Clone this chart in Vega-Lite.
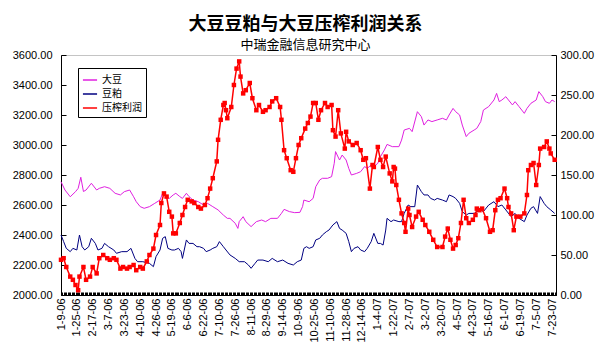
{
"$schema":"https://vega.github.io/schema/vega-lite/v6.json",
"width":495,"height":240,
"autosize":{"type":"none"},
"padding":{"left":61,"top":55,"right":53,"bottom":62},
"background":"white",
"title":{"text":"大豆豆粕与大豆压榨利润关系","subtitle":"中瑞金融信息研究中心","font":"Noto Sans CJK SC","fontSize":18,"fontWeight":"bold","subtitleFont":"Noto Sans CJK SC","subtitleFontSize":13,"anchor":"middle","offset":-3,"subtitlePadding":5,"color":"black","subtitleColor":"black","dx":-3},
"datasets":{
"soy":[{"t":0,"v":2755},{"t":3,"v":2700},{"t":7,"v":2655},{"t":11,"v":2689},{"t":13,"v":2711},{"t":15,"v":2785},{"t":17,"v":2690},{"t":19,"v":2700},{"t":23,"v":2745},{"t":27,"v":2700},{"t":29,"v":2711},{"t":33,"v":2722},{"t":37,"v":2711},{"t":41,"v":2678},{"t":45,"v":2667},{"t":48,"v":2689},{"t":52,"v":2700},{"t":55,"v":2655},{"t":57,"v":2622},{"t":60,"v":2589},{"t":63,"v":2578},{"t":67,"v":2589},{"t":71,"v":2611},{"t":75,"v":2633},{"t":77,"v":2678},{"t":80,"v":2656},{"t":82,"v":2644},{"t":85,"v":2667},{"t":87,"v":2678},{"t":90,"v":2656},{"t":92,"v":2644},{"t":95,"v":2678},{"t":97,"v":2656},{"t":100,"v":2633},{"t":104,"v":2622},{"t":108,"v":2600},{"t":111,"v":2611},{"t":115,"v":2589},{"t":119,"v":2567},{"t":123,"v":2533},{"t":126,"v":2511},{"t":128,"v":2511},{"t":132,"v":2478},{"t":134,"v":2444},{"t":135,"v":2489},{"t":138,"v":2522},{"t":140,"v":2489},{"t":144,"v":2456},{"t":148,"v":2489},{"t":152,"v":2500},{"t":155,"v":2489},{"t":159,"v":2511},{"t":164,"v":2511},{"t":167,"v":2544},{"t":169,"v":2571},{"t":173,"v":2556},{"t":177,"v":2549},{"t":181,"v":2551},{"t":183,"v":2589},{"t":184,"v":2633},{"t":188,"v":2622},{"t":191,"v":2644},{"t":193,"v":2722},{"t":196,"v":2767},{"t":198,"v":2778},{"t":202,"v":2778},{"t":205,"v":2789},{"t":207,"v":2878},{"t":208,"v":2956},{"t":211,"v":2900},{"t":213,"v":2933},{"t":216,"v":2900},{"t":218,"v":2844},{"t":220,"v":2800},{"t":224,"v":2811},{"t":227,"v":2822},{"t":230,"v":2856},{"t":232,"v":2844},{"t":235,"v":2867},{"t":237,"v":2856},{"t":240,"v":2878},{"t":242,"v":2922},{"t":245,"v":2967},{"t":247,"v":3004},{"t":251,"v":2989},{"t":256,"v":2989},{"t":258,"v":3033},{"t":260,"v":3100},{"t":264,"v":3111},{"t":266,"v":3089},{"t":270,"v":3222},{"t":273,"v":3189},{"t":275,"v":3133},{"t":278,"v":3167},{"t":281,"v":3156},{"t":285,"v":3167},{"t":289,"v":3178},{"t":292,"v":3167},{"t":294,"v":3200},{"t":297,"v":3244},{"t":299,"v":3222},{"t":302,"v":3200},{"t":304,"v":3133},{"t":307,"v":3056},{"t":309,"v":3078},{"t":313,"v":3100},{"t":315,"v":3111},{"t":318,"v":3156},{"t":320,"v":3233},{"t":324,"v":3256},{"t":328,"v":3300},{"t":330,"v":3344},{"t":332,"v":3289},{"t":334,"v":3300},{"t":337,"v":3322},{"t":339,"v":3300},{"t":342,"v":3267},{"t":344,"v":3289},{"t":347,"v":3256},{"t":351,"v":3211},{"t":353,"v":3244},{"t":356,"v":3278},{"t":360,"v":3300},{"t":362,"v":3356},{"t":365,"v":3322},{"t":367,"v":3289},{"t":370,"v":3278},{"t":372,"v":3300},{"t":374,"v":3289}],
"meal":[{"t":0,"v":2400},{"t":2,"v":2356},{"t":4,"v":2311},{"t":7,"v":2289},{"t":9,"v":2311},{"t":12,"v":2300},{"t":14,"v":2400},{"t":16,"v":2322},{"t":18,"v":2300},{"t":21,"v":2322},{"t":23,"v":2378},{"t":26,"v":2344},{"t":28,"v":2300},{"t":31,"v":2311},{"t":33,"v":2344},{"t":36,"v":2322},{"t":40,"v":2300},{"t":42,"v":2278},{"t":46,"v":2289},{"t":50,"v":2289},{"t":53,"v":2311},{"t":56,"v":2244},{"t":58,"v":2222},{"t":62,"v":2222},{"t":67,"v":2211},{"t":70,"v":2189},{"t":72,"v":2256},{"t":75,"v":2300},{"t":77,"v":2378},{"t":79,"v":2389},{"t":81,"v":2311},{"t":84,"v":2300},{"t":86,"v":2300},{"t":89,"v":2311},{"t":91,"v":2289},{"t":92,"v":2244},{"t":95,"v":2367},{"t":97,"v":2344},{"t":100,"v":2344},{"t":103,"v":2322},{"t":105,"v":2322},{"t":108,"v":2311},{"t":110,"v":2289},{"t":113,"v":2300},{"t":115,"v":2311},{"t":118,"v":2322},{"t":120,"v":2356},{"t":123,"v":2322},{"t":125,"v":2300},{"t":128,"v":2267},{"t":132,"v":2244},{"t":135,"v":2222},{"t":139,"v":2222},{"t":142,"v":2200},{"t":144,"v":2178},{"t":147,"v":2211},{"t":149,"v":2233},{"t":153,"v":2233},{"t":157,"v":2222},{"t":160,"v":2244},{"t":164,"v":2222},{"t":168,"v":2233},{"t":172,"v":2211},{"t":176,"v":2200},{"t":179,"v":2222},{"t":182,"v":2233},{"t":184,"v":2311},{"t":186,"v":2322},{"t":188,"v":2311},{"t":191,"v":2322},{"t":193,"v":2367},{"t":196,"v":2378},{"t":198,"v":2400},{"t":201,"v":2422},{"t":203,"v":2433},{"t":206,"v":2467},{"t":209,"v":2489},{"t":211,"v":2444},{"t":213,"v":2433},{"t":216,"v":2411},{"t":218,"v":2356},{"t":220,"v":2289},{"t":222,"v":2311},{"t":225,"v":2322},{"t":227,"v":2300},{"t":230,"v":2289},{"t":232,"v":2311},{"t":235,"v":2356},{"t":237,"v":2411},{"t":240,"v":2344},{"t":242,"v":2344},{"t":244,"v":2333},{"t":246,"v":2433},{"t":247,"v":2511},{"t":250,"v":2489},{"t":252,"v":2500},{"t":256,"v":2489},{"t":258,"v":2489},{"t":260,"v":2544},{"t":263,"v":2600},{"t":265,"v":2589},{"t":268,"v":2589},{"t":270,"v":2733},{"t":273,"v":2689},{"t":275,"v":2667},{"t":278,"v":2667},{"t":280,"v":2644},{"t":283,"v":2633},{"t":285,"v":2644},{"t":289,"v":2633},{"t":292,"v":2622},{"t":294,"v":2667},{"t":297,"v":2656},{"t":299,"v":2644},{"t":302,"v":2611},{"t":304,"v":2556},{"t":307,"v":2533},{"t":309,"v":2544},{"t":313,"v":2544},{"t":315,"v":2556},{"t":318,"v":2567},{"t":320,"v":2556},{"t":324,"v":2600},{"t":328,"v":2622},{"t":331,"v":2589},{"t":334,"v":2600},{"t":337,"v":2567},{"t":341,"v":2522},{"t":344,"v":2544},{"t":347,"v":2511},{"t":351,"v":2489},{"t":353,"v":2533},{"t":356,"v":2578},{"t":358,"v":2589},{"t":361,"v":2544},{"t":363,"v":2656},{"t":366,"v":2611},{"t":368,"v":2589},{"t":371,"v":2567},{"t":374,"v":2544}],
"profit":[{"t":0,"v":44},{"t":2,"v":46},{"t":4,"v":35},{"t":7,"v":23},{"t":9,"v":19},{"t":11,"v":12.5},{"t":13,"v":6},{"t":14,"v":23},{"t":17,"v":35},{"t":19,"v":19},{"t":22,"v":23},{"t":24,"v":35},{"t":27,"v":27},{"t":29,"v":46},{"t":32,"v":50},{"t":35,"v":46},{"t":37,"v":44},{"t":40,"v":46},{"t":42,"v":44},{"t":45,"v":33},{"t":47,"v":35},{"t":50,"v":33},{"t":52,"v":35},{"t":55,"v":37.5},{"t":57,"v":31},{"t":60,"v":35},{"t":62,"v":33},{"t":65,"v":42},{"t":67,"v":50},{"t":70,"v":58},{"t":72,"v":75},{"t":75,"v":87.5},{"t":76,"v":115},{"t":78,"v":127},{"t":80,"v":123},{"t":82,"v":104},{"t":84,"v":98},{"t":85,"v":77},{"t":87,"v":77},{"t":90,"v":90},{"t":92,"v":100},{"t":94,"v":110},{"t":96,"v":119},{"t":99,"v":117},{"t":101,"v":115},{"t":104,"v":110},{"t":106,"v":108},{"t":109,"v":112.5},{"t":111,"v":121},{"t":113,"v":133},{"t":115,"v":146},{"t":118,"v":167},{"t":119,"v":194},{"t":121,"v":219},{"t":123,"v":237.5},{"t":124,"v":240},{"t":125,"v":231},{"t":126,"v":221},{"t":129,"v":235},{"t":131,"v":262.5},{"t":133,"v":283},{"t":135,"v":292},{"t":136,"v":273},{"t":138,"v":252},{"t":140,"v":256},{"t":143,"v":265},{"t":145,"v":246},{"t":148,"v":231},{"t":150,"v":237.5},{"t":153,"v":229},{"t":155,"v":231},{"t":158,"v":235},{"t":160,"v":242},{"t":163,"v":246},{"t":166,"v":235},{"t":167,"v":219},{"t":169,"v":181},{"t":171,"v":171},{"t":174,"v":156},{"t":176,"v":154},{"t":178,"v":171},{"t":180,"v":187.5},{"t":182,"v":196},{"t":185,"v":208},{"t":187,"v":215},{"t":189,"v":223},{"t":191,"v":240},{"t":193,"v":240},{"t":195,"v":219},{"t":197,"v":231},{"t":200,"v":240},{"t":202,"v":235},{"t":205,"v":237.5},{"t":206,"v":206},{"t":208,"v":198},{"t":210,"v":231},{"t":212,"v":202},{"t":215,"v":183},{"t":216,"v":204},{"t":218,"v":192},{"t":221,"v":187.5},{"t":224,"v":190},{"t":227,"v":181},{"t":229,"v":169},{"t":231,"v":171},{"t":234,"v":133},{"t":236,"v":162.5},{"t":237,"v":160},{"t":240,"v":185},{"t":242,"v":169},{"t":244,"v":160},{"t":246,"v":173},{"t":249,"v":152},{"t":251,"v":142},{"t":252,"v":160},{"t":253,"v":158},{"t":254,"v":137.5},{"t":256,"v":119},{"t":258,"v":102},{"t":260,"v":90},{"t":261,"v":79},{"t":263,"v":108},{"t":264,"v":100},{"t":266,"v":85},{"t":269,"v":98},{"t":271,"v":104},{"t":274,"v":94},{"t":276,"v":87.5},{"t":279,"v":79},{"t":282,"v":69},{"t":285,"v":60},{"t":289,"v":60},{"t":291,"v":73},{"t":293,"v":83},{"t":295,"v":69},{"t":297,"v":58},{"t":299,"v":62.5},{"t":301,"v":71},{"t":303,"v":90},{"t":305,"v":119},{"t":307,"v":96},{"t":309,"v":90},{"t":312,"v":94},{"t":314,"v":100},{"t":315,"v":108},{"t":317,"v":106},{"t":319,"v":108},{"t":322,"v":96},{"t":325,"v":79},{"t":327,"v":81},{"t":329,"v":106},{"t":331,"v":119},{"t":333,"v":121},{"t":336,"v":133},{"t":338,"v":121},{"t":339,"v":110},{"t":341,"v":102},{"t":343,"v":81},{"t":345,"v":98},{"t":348,"v":98},{"t":351,"v":102},{"t":353,"v":125},{"t":354,"v":156},{"t":356,"v":162.5},{"t":358,"v":165},{"t":360,"v":137.5},{"t":362,"v":162.5},{"t":363,"v":183},{"t":366,"v":185},{"t":368,"v":192},{"t":370,"v":183},{"t":371,"v":177},{"t":374,"v":169}]
},
"layer":[
{"encoding":{
   "x":{"field":"t","type":"quantitative","scale":{"domain":[0,375],"nice":false,"zero":false},
        "axis":{"title":null,"tickCount":376,"labelOverlap":false,"labelFlush":false,"labelAngle":-90,"labelAlign":"right","labelBaseline":"middle","labelPadding":6,"tickSize":-3,"labelFontSize":11,
        "labelExpr":"datum.value % 12 === 0 ? ['1-9-06','1-25-06','2-17-06','3-7-06','3-23-06','4-10-06','4-26-06','5-19-06','6-6-06','6-22-06','7-10-06','7-26-06','8-11-06','8-29-06','9-14-06','10-9-06','10-25-06','11-10-06','11-28-06','12-14-06','1-4-07','1-22-07','2-7-07','3-2-07','3-20-07','4-5-07','4-23-07','5-16-07','6-1-07','6-19-07','7-5-07','7-23-07'][datum.value / 12] : ''"}},
   "y":{"field":"v","type":"quantitative","scale":{"domain":[2000,3600],"nice":false,"zero":false},
        "axis":{"orient":"left","title":null,"values":[2000,2200,2400,2600,2800,3000,3200,3400,3600],"format":".2f","tickSize":-5,"labelPadding":14,"labelOverlap":false,"labelFlush":false}}
 },
 "layer":[
 {"data":{"name":"soy"},
  "mark":{"type":"line","strokeWidth":1},
  "encoding":{
   "color":{"datum":"大豆","type":"nominal","scale":{"domain":["大豆","豆粕","压榨利润"],"range":["#E020E0","#000080","#FF0000"]},
        "legend":{"title":null,"orient":"none","legendX":17,"legendY":13}}
  }},
 {"data":{"name":"meal"},
  "mark":{"type":"line","strokeWidth":1},
  "encoding":{
   "color":{"datum":"豆粕","type":"nominal"}
  }}
]},
{"data":{"name":"profit"},
 "mark":{"type":"line","strokeWidth":1.5,"point":{"shape":"square","size":20,"filled":true}},
 "encoding":{
  "x":{"field":"t","type":"quantitative"},
  "y":{"field":"v","type":"quantitative","scale":{"domain":[0,300],"nice":false,"zero":false},
       "axis":{"orient":"right","title":null,"values":[0,50,100,150,200,250,300],"format":".2f","tickSize":-5,"labelPadding":9,"labelOverlap":false,"labelFlush":false}},
  "color":{"datum":"压榨利润","type":"nominal"}
 }}
],
"resolve":{"scale":{"y":"independent"}},
"config":{
 "axis":{"grid":false,"labelFont":"Liberation Sans","labelFontSize":11,"labelColor":"black","domainColor":"black","tickColor":"black"},
 "view":{"stroke":"#888888","strokeDash":[1,1]},
 "legend":{"strokeColor":"black","fillColor":"white","padding":4,"labelFont":"Noto Sans CJK SC","labelFontSize":10,"labelColor":"black","symbolType":"stroke","symbolSize":200,"symbolStrokeWidth":1.5,"rowPadding":1,"labelOffset":4,"cornerRadius":0}
}
}
